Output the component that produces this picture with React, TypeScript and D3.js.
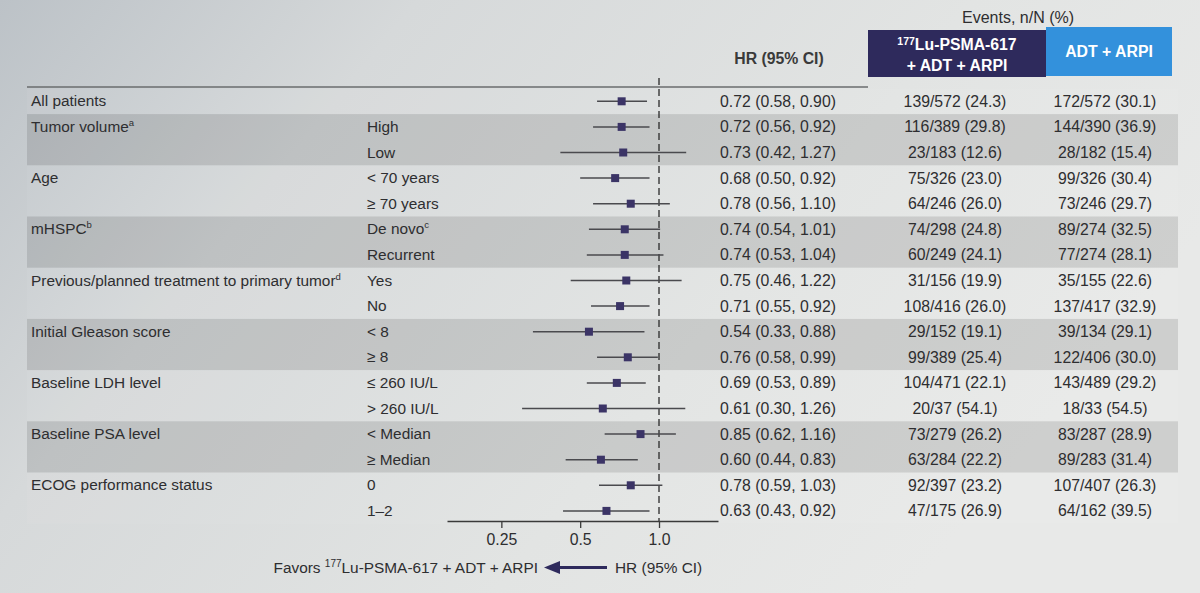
import React, { useEffect, useRef } from "react";
import * as d3 from "d3";

const groups = [
  { label: "All patients", sup: "", rows: 1 },
  { label: "Tumor volume", sup: "a", rows: 2 },
  { label: "Age", sup: "", rows: 2 },
  { label: "mHSPC", sup: "b", rows: 2 },
  { label: "Previous/planned treatment to primary tumor", sup: "d", rows: 2 },
  { label: "Initial Gleason score", sup: "", rows: 2 },
  { label: "Baseline LDH level", sup: "", rows: 2 },
  { label: "Baseline PSA level", sup: "", rows: 2 },
  { label: "ECOG performance status", sup: "", rows: 2 },
];
const subgroups = ["", "High", "Low", "< 70 years", "≥ 70 years", "De novo", "Recurrent", "Yes", "No", "< 8", "≥ 8", "≤ 260 IU/L", "> 260 IU/L", "< Median", "≥ Median", "0", "1–2"];
const subSups = ["", "", "", "", "", "c", "", "", "", "", "", "", "", "", "", "", ""];
const hr = [0.72, 0.72, 0.73, 0.68, 0.78, 0.74, 0.74, 0.75, 0.71, 0.54, 0.76, 0.69, 0.61, 0.85, 0.60, 0.78, 0.63];
const lo = [0.58, 0.56, 0.42, 0.50, 0.56, 0.54, 0.53, 0.46, 0.55, 0.33, 0.58, 0.53, 0.30, 0.62, 0.44, 0.59, 0.43];
const hi = [0.90, 0.92, 1.27, 0.92, 1.10, 1.01, 1.04, 1.22, 0.92, 0.88, 0.99, 0.89, 1.26, 1.16, 0.83, 1.03, 0.92];
const luEvents = ["139/572 (24.3)", "116/389 (29.8)", "23/183 (12.6)", "75/326 (23.0)", "64/246 (26.0)", "74/298 (24.8)", "60/249 (24.1)", "31/156 (19.9)", "108/416 (26.0)", "29/152 (19.1)", "99/389 (25.4)", "104/471 (22.1)", "20/37 (54.1)", "73/279 (26.2)", "63/284 (22.2)", "92/397 (23.2)", "47/175 (26.9)"];
const adtEvents = ["172/572 (30.1)", "144/390 (36.9)", "28/182 (15.4)", "99/326 (30.4)", "73/246 (29.7)", "89/274 (32.5)", "77/274 (28.1)", "35/155 (22.6)", "137/417 (32.9)", "39/134 (29.1)", "122/406 (30.0)", "143/489 (29.2)", "18/33 (54.5)", "83/287 (28.9)", "89/283 (31.4)", "107/407 (26.3)", "64/162 (39.5)"];
const tickValues = [0.25, 0.5, 1.0];
const tickLabels = ["0.25", "0.5", "1.0"];

const FONT = "'Liberation Sans', Arial, sans-serif";
const TEXT = "#2e2e30";
const FS = 15.8;

export default function App() {
  const axisRef = useRef<SVGGElement>(null);
  const x = d3.scaleLog().domain([0.155, 1.68]).range([447, 718]);
  const rowH = 25.6;
  const y0 = 88.5;
  const y = d3.scaleLinear().domain([0, hr.length]).range([y0, y0 + rowH * hr.length]);
  const yc = (i: number) => y(i) + rowH / 2;
  const axisY = 521;

  useEffect(() => {
    if (!axisRef.current) return;
    const g = d3.select(axisRef.current);
    g.selectAll("*").remove();
    const axis = d3
      .axisBottom(x)
      .tickValues(tickValues)
      .tickFormat((d, i) => tickLabels[i])
      .tickSize(7)
      .tickSizeOuter(0)
      .tickPadding(6);
    g.call(axis as any);
    g.select(".domain").attr("stroke", "#3a3a3a").attr("stroke-width", 1.3);
    g.selectAll(".tick line").attr("stroke", "#3a3a3a").attr("stroke-width", 1.3);
    g.selectAll(".tick text")
      .attr("font-size", FS)
      .attr("font-family", FONT)
      .attr("fill", TEXT);
  }, []);

  let start = 0;
  const bands = groups.map((gr, gi) => {
    const s = start;
    start += gr.rows;
    return { ...gr, start: s, gi };
  });

  return (
    <svg
      width={1200}
      height={593}
      style={{ position: "absolute", left: 0, top: 0, display: "block" }}
      fontFamily={FONT}
    >
      <defs>
        <linearGradient id="bg" x1="0" y1="0" x2="1" y2="0.4">
          <stop offset="0" stopColor="#bcc2c7" />
          <stop offset="0.3" stopColor="#d6d9da" />
          <stop offset="0.7" stopColor="#e2e4e3" />
          <stop offset="1" stopColor="#e8e9e8" />
        </linearGradient>
      </defs>
      <rect x={0} y={0} width={1200} height={593} fill="url(#bg)" />
      {bands.map((b) => (
        <rect
          key={b.label}
          x={27}
          y={y(b.start)}
          width={1151}
          height={rowH * b.rows}
          fill={b.gi % 2 === 0 ? "#fff" : "#000"}
          fillOpacity={b.gi % 2 === 0 ? 0.05 : 0.11}
        />
      ))}
      <line x1={27} x2={868} y1={87} y2={87} stroke="#6a6c6e" strokeWidth={1.5} />

      {/* headers */}
      <text x={1018} y={23} fontSize={16} textAnchor="middle" fill={TEXT}>
        Events, n/N (%)
      </text>
      <rect x={868} y={30} width={178} height={47} fill="#2e2a5c" />
      <rect x={1046} y={27} width={126} height={49} fill="#3391dc" />
      <text x={957} y={50} fontSize={FS} fontWeight="bold" fill="#fff" textAnchor="middle">
        <tspan fontSize={10.5} dy={-5}>177</tspan>
        <tspan dy={5}>Lu-PSMA-617</tspan>
      </text>
      <text x={957} y={71} fontSize={FS} fontWeight="bold" fill="#fff" textAnchor="middle">
        + ADT + ARPI
      </text>
      <text x={1109} y={57} fontSize={FS} fontWeight="bold" fill="#fff" textAnchor="middle">
        ADT + ARPI
      </text>
      <text x={779} y={64} fontSize={FS} fontWeight="bold" fill="#3a3a3a" textAnchor="middle">
        HR (95% CI)
      </text>

      {/* group labels */}
      {bands.map((b) => (
        <text key={b.label} x={31} y={yc(b.start) + 5} fontSize={15.4} fill={TEXT}>
          {b.label}
          {b.sup && (
            <tspan fontSize={9.5} dy={-6}>
              {b.sup}
            </tspan>
          )}
        </text>
      ))}
      {subgroups.map((s, i) =>
        s ? (
          <text key={"s" + i} x={367} y={yc(i) + 5} fontSize={15.4} fill={TEXT}>
            {s}
            {subSups[i] && (
              <tspan fontSize={9.5} dy={-6}>
                {subSups[i]}
              </tspan>
            )}
          </text>
        ) : null
      )}

      {/* reference line */}
      <line
        x1={x(1)}
        x2={x(1)}
        y1={78}
        y2={axisY}
        stroke="#2a2a2a"
        strokeWidth={1.3}
        strokeDasharray="7,4"
      />

      {/* CIs and markers */}
      {hr.map((h, i) => (
        <g key={"m" + i}>
          <line x1={x(lo[i])} x2={x(hi[i])} y1={yc(i)} y2={yc(i)} stroke="#4a4a4e" strokeWidth={1.5} />
          <rect x={x(h) - 4} y={yc(i) - 4} width={8} height={8} fill="#3b3466" />
        </g>
      ))}

      {/* HR text and events */}
      {hr.map((h, i) => (
        <g key={"t" + i} fontSize={FS} fill={TEXT}>
          <text x={720} y={yc(i) + 5.5}>
            {`${h.toFixed(2)} (${lo[i].toFixed(2)}, ${hi[i].toFixed(2)})`}
          </text>
          <text x={955} y={yc(i) + 5.5} textAnchor="middle">
            {luEvents[i]}
          </text>
          <text x={1105} y={yc(i) + 5.5} textAnchor="middle">
            {adtEvents[i]}
          </text>
        </g>
      ))}

      <g ref={axisRef} transform={`translate(0,${axisY})`} />

      {/* favors label */}
      <text x={538} y={573} fontSize={15.4} fill={TEXT} textAnchor="end">
        Favors <tspan fontSize={10} dy={-6}>177</tspan>
        <tspan dy={6}>Lu-PSMA-617 + ADT + ARPI</tspan>
      </text>
      <line x1={556} x2={607} y1={567.5} y2={567.5} stroke="#2e2a5c" strokeWidth={3} />
      <path d="M544,567.5 L560,561 L560,574 Z" fill="#2e2a5c" />
      <text x={615} y={573} fontSize={15.4} fill={TEXT}>
        HR (95% CI)
      </text>
    </svg>
  );
}
